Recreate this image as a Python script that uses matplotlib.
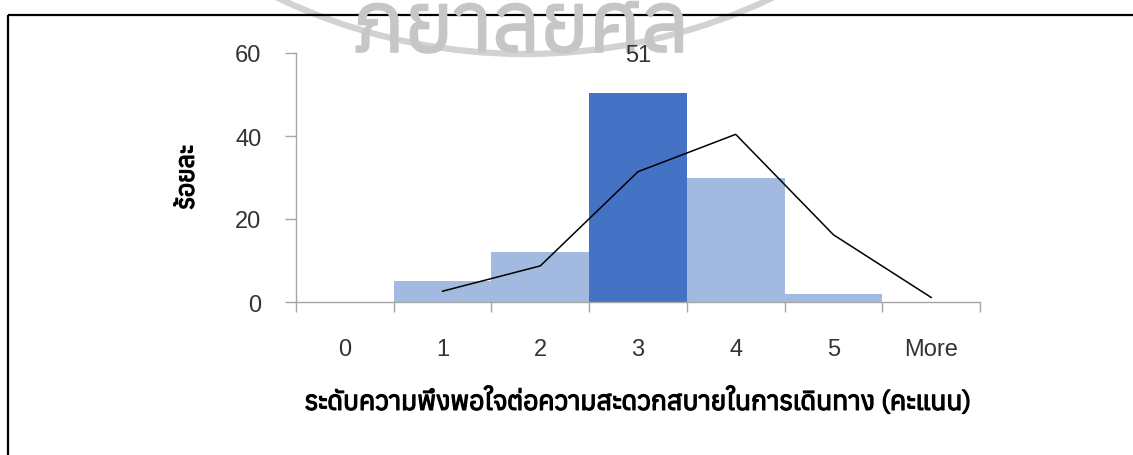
import numpy as np
import matplotlib
matplotlib.use("Agg")
import matplotlib.pyplot as plt
import matplotlib.patheffects as pe
from matplotlib import font_manager as fm
from matplotlib.ft2font import FT2Font
from matplotlib.patches import Circle

# data
categories = ["0", "1", "2", "3", "4", "5", "More"]
percent = [0, 5, 12, 50.4, 30, 2, 0]
curve = [None, 2.6, 8.7, 31.4, 40.4, 16.2, 1.1]
peak_label = "51"
y_ticks = [0, 20, 40, 60]

# look for any installed font with Thai glyphs
thai_fonts = []
for f in fm.fontManager.ttflist:
    try:
        if 0x0E01 in FT2Font(f.fname).get_charmap():
            thai_fonts.append(f.name)
    except Exception:
        pass
thai_fonts = sorted(set(thai_fonts))
thai_family = thai_fonts[:1] + ["DejaVu Sans"]
bold = [pe.withStroke(linewidth=0.9, foreground="black")]

names = {f.name for f in fm.fontManager.ttflist}
num_font = "Liberation Sans Narrow" if "Liberation Sans Narrow" in names else "Liberation Sans"

W, H = 1133, 456
fig = plt.figure(figsize=(W / 100, H / 100), dpi=100)

# background layer in pixel coords: frame + watermark
bg = fig.add_axes([0, 0, 1, 1], zorder=0)
bg.set_xlim(0, W)
bg.set_ylim(H, 0)
bg.axis("off")
bg.add_patch(Circle((525, -518), 573, fill=False, ec="#d2d2d2", lw=4.5))
bg.text(521, 53, "ภยาลัยศิล", family=thai_family, fontsize=60, color="#c6c6c6",
        ha="center", va="baseline",
        path_effects=[pe.withStroke(linewidth=1.2, foreground="#c6c6c6")])
bg.plot([7.5, W], [15.5, 15.5], color="black", lw=1.6, solid_capstyle="butt")
bg.plot([7.5, 7.5], [15.5, H], color="black", lw=1.6, solid_capstyle="butt")

x = np.arange(len(categories))
ax = fig.add_axes([296 / W, (H - 303) / H, 684 / W, 249 / H], zorder=1)
ax.patch.set_alpha(0)

colors = ["#A3BAE0"] * len(categories)
colors[int(np.argmax(percent))] = "#4472C4"
ax.bar(x, percent, width=1.0, color=colors, linewidth=0)

xs = [xi for xi, v in zip(x, curve) if v is not None]
ys = [v for v in curve if v is not None]
ax.plot(xs, ys, color="black", lw=1.1)

i = int(np.argmax(percent))
ax.annotate(peak_label, (x[i], percent[i]), xytext=(0, 19), textcoords="offset points",
            ha="center", va="bottom", fontsize=17, family=num_font, color="#333333")

ax.set_xlim(-0.5, len(categories) - 0.5)
ax.set_ylim(0, 60)
ax.set_yticks(y_ticks)
ax.set_xticks(np.arange(len(categories) + 1) - 0.5, minor=False)
ax.set_xticklabels([])
ax.set_xticks(x, minor=True)
ax.set_xticklabels(categories, minor=True)

for s in ["top", "right"]:
    ax.spines[s].set_visible(False)
for s in ["left", "bottom"]:
    ax.spines[s].set_color("#A6A6A6")
    ax.spines[s].set_linewidth(1.0)

ax.tick_params(axis="y", length=8, width=1, color="#A6A6A6", pad=17,
               labelsize=17, labelcolor="#333333")
ax.tick_params(axis="x", which="major", length=7, width=1, color="#A6A6A6")
ax.tick_params(axis="x", which="minor", length=0, pad=26,
               labelsize=17, labelcolor="#333333")
for lab in ax.get_yticklabels() + ax.get_xticklabels(minor=True):
    lab.set_family(num_font)

ax.set_xlabel("ระดับความพึงพอใจต่อความสะดวกสบายในการเดินทาง (คะแนน)",
              family=thai_family, fontsize=19, labelpad=20, path_effects=bold)
ax.set_ylabel("ร้อยละ", family=thai_family, fontsize=18, labelpad=26, path_effects=bold)

fig.savefig("out.png", dpi=100)
